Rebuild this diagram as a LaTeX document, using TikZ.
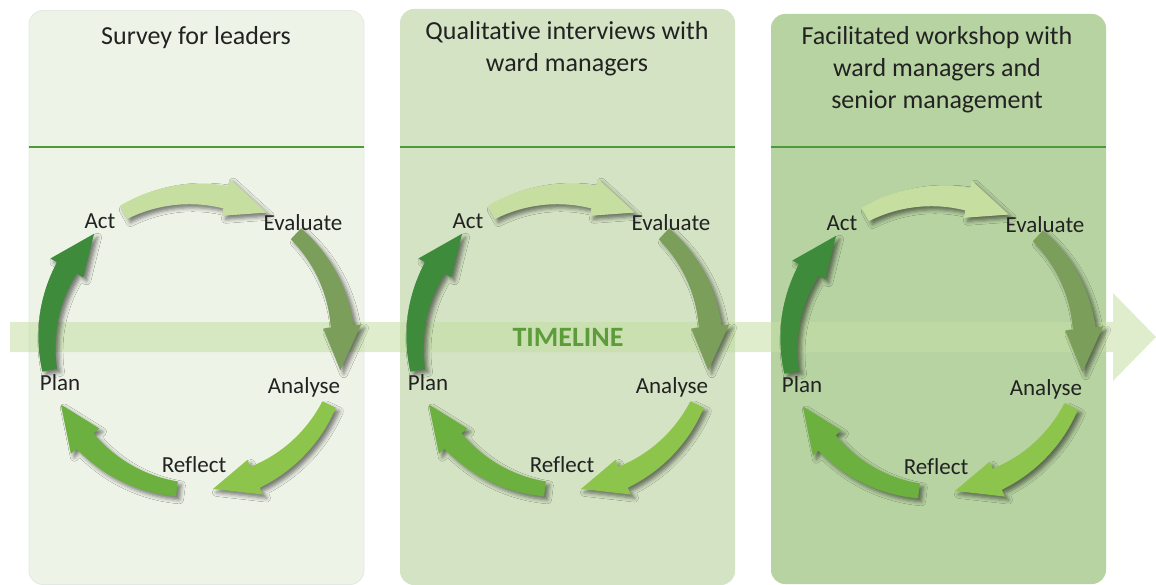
\documentclass[tikz,border=0pt]{standalone}
\usepackage{fontspec}
\setmainfont{Carlito}[Ligatures=NoCommon]
\usetikzlibrary{shadows.blur}

\definecolor{panelA}{HTML}{EEF3E8}
\definecolor{panelB}{HTML}{D3E3C3}
\definecolor{panelC}{HTML}{B7D3A2}
\definecolor{panelEdge}{HTML}{E2E8E2}
\definecolor{rulegreen}{HTML}{4E9A3A}
\definecolor{barGreen}{HTML}{C4DFA4}
\definecolor{timeText}{HTML}{5C9C3B}
\definecolor{txt}{HTML}{222222}
\definecolor{arTop}{HTML}{C6DFA1}
\definecolor{arRight}{HTML}{7B9F5A}
\definecolor{arLowR}{HTML}{8DC44B}
\definecolor{arLowL}{HTML}{6CB040}
\definecolor{arLeft}{HTML}{3F8B3C}

\tikzset{
  panelbox/.style={rounded corners=14pt, inner sep=0pt, minimum width=335pt},
  titletext/.style={text=txt, align=center, font=\fontsize{26}{32}\selectfont, inner sep=0pt},
  steplabel/.style={text=txt, font=\fontsize{23}{26}\selectfont, inner sep=0pt},
  arrowshadow/.style={blur shadow={shadow xshift=3.5pt, shadow yshift=-3.5pt,
      shadow blur radius=4pt, shadow opacity=50}},
}

% One curved arrow of a cycle: centre x, centre y, start angle, colour.
% The shaft widens from 15 to 23 units, the head is 38 units wide.
\newcommand{\cyclearrow}[4]{%
  \pgfmathsetmacro{\sa}{#3}%
  \pgfmathsetmacro{\hb}{#3-41}%
  \pgfmathsetmacro{\tp}{#3-58}%
  \fill[#4, arrowshadow]
    plot[domain=\sa:\hb, samples=24]
      ({#1+(155.5+4*(\sa-\x)/41)*cos(\x)}, {#2-(155.5+4*(\sa-\x)/41)*sin(\x)})
    -- ({#1+167*cos(\hb)}, {#2-167*sin(\hb)})
    -- ({#1+148*cos(\tp)}, {#2-148*sin(\tp)})
    -- ({#1+129*cos(\hb)}, {#2-129*sin(\hb)})
    -- plot[domain=\hb:\sa, samples=24]
      ({#1+(140.5-4*(\sa-\x)/41)*cos(\x)}, {#2-(140.5-4*(\sa-\x)/41)*sin(\x)})
    -- cycle;
}

% The five arrows of a cycle: centre x, centre y
\newcommand{\pdcaarrows}[2]{%
  \cyclearrow{#1}{#2}{119}{arTop}
  \cyclearrow{#1}{#2}{47}{arRight}
  \cyclearrow{#1}{#2}{-25}{arLowR}
  \cyclearrow{#1}{#2}{-97}{arLowL}
  \cyclearrow{#1}{#2}{-169}{arLeft}
}

% The five step labels of a cycle: centre x, centre y, name prefix
\newcommand{\pdcalabels}[3]{%
  \node[steplabel] (#3-act)  at (#1-95,  #2-121) {Act};
  \node[steplabel] (#3-eval) at (#1+108, #2-119) {Evaluate};
  \node[steplabel] (#3-anal) at (#1+109, #2+45)  {Analyse};
  \node[steplabel] (#3-refl) at (#1-1,   #2+123) {Reflect};
  \node[steplabel] (#3-plan) at (#1-135, #2+41)  {Plan};
}

\begin{document}
\begin{tikzpicture}[x=1pt, y=-1pt]
\useasboundingbox (0,0) rectangle (1156,585);

% stage panels
\node[panelbox, fill=panelA, draw=panelEdge, line width=0.8pt, minimum height=574pt]
  (panel1) at (196.5,297.5) {};
\node[panelbox, fill=panelB, minimum height=576pt] (panel2) at (567.5,297) {};
\node[panelbox, fill=panelC, minimum height=570pt] (panel3) at (938.5,299) {};

% rules under the headings
\foreach \p in {panel1,panel2,panel3}
  \draw[rulegreen, line width=2pt] (\p.west |- 0,147) -- (\p.east |- 0,147);

% headings
\node[titletext] (title1) at (196,38) {Survey for leaders};
\node[titletext] (title2) at (567,49) {Qualitative interviews with\\ward managers};
\node[titletext] (title3) at (937,70) {Facilitated workshop with\\ward managers and\\senior management};

% timeline arrow
\fill[barGreen, opacity=0.55]
  (10,322) -- (1113,322) -- (1113,293) -- (1156,337) -- (1113,381)
  -- (1113,352) -- (10,352) -- cycle;
\node[text=timeText, font=\bfseries\fontsize{28}{30}\selectfont, inner sep=0pt]
  (timeline) at (568,337) {TIMELINE};

% improvement cycles
\pdcaarrows{195}{342}
\pdcaarrows{563}{342}
\pdcaarrows{937}{344}
\pdcalabels{195}{342}{c1}
\pdcalabels{563}{342}{c2}
\pdcalabels{937}{344}{c3}
\end{tikzpicture}
\end{document}
